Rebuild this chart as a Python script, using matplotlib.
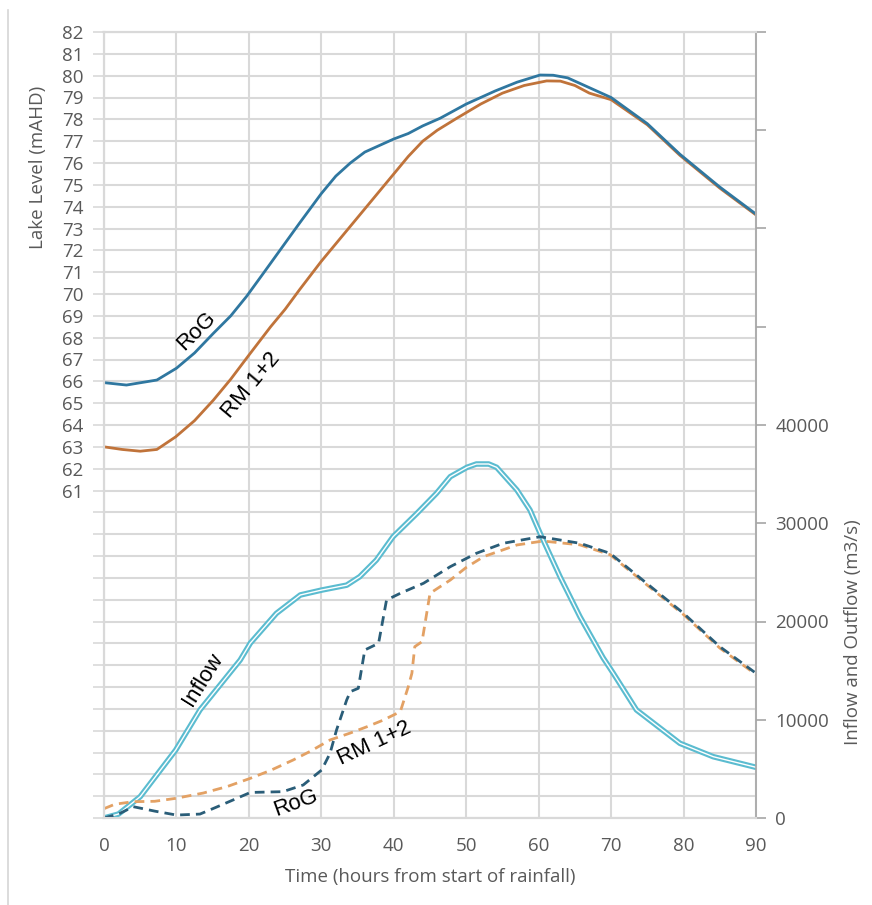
import matplotlib
matplotlib.use("Agg")
import matplotlib.pyplot as plt
from matplotlib.lines import Line2D
from matplotlib.ticker import FixedLocator, FuncFormatter

# %%
# Data
# Lake levels (mAHD), left axis
lvl_rog_t = [0, 3.1, 7.3, 10, 12.5, 15.1, 17.5, 19.7, 22, 24.5, 27, 30, 32, 34, 36, 38,
             40, 42, 44, 46.4, 50, 54, 57, 60.2, 62, 64, 66, 68, 70, 75, 79.5, 85, 90]
lvl_rog = [65.94, 65.83, 66.06, 66.6, 67.3, 68.2, 69.0, 69.9, 70.95, 72.1, 73.25, 74.6, 75.4,
           76.0, 76.5, 76.8, 77.1, 77.35, 77.7, 78.05, 78.7, 79.3, 79.7, 80.03, 80.02, 79.9,
           79.6, 79.3, 79.0, 77.8, 76.4, 74.9, 73.66]

lvl_rm_t = [0, 2.5, 5, 7.3, 9.9, 12.5, 15.1, 17.5, 20, 23, 25, 27, 30, 33, 36, 39, 42, 44,
            46, 48.7, 52, 55, 58, 61.1, 63, 65, 67, 70, 75, 79.5, 85, 90]
lvl_rm = [63.0, 62.88, 62.8, 62.88, 63.46, 64.2, 65.14, 66.1, 67.2, 68.5, 69.3, 70.2, 71.5,
          72.7, 73.9, 75.1, 76.3, 77.0, 77.5, 78.05, 78.7, 79.2, 79.55, 79.76, 79.75, 79.55,
          79.2, 78.9, 77.75, 76.35, 74.85, 73.62]

# Flows (m3/s), right axis
inflow_t = [0, 2, 5, 9.9, 13.25, 18.8, 20.2, 23.8, 27.1, 30.05, 33.5, 35.3, 37.6, 39.9,
            43.2, 45.9, 47.8, 50.1, 51.4, 53.1, 54.2, 57.0, 58.8, 60.2, 62.95, 65.7, 68.9,
            70.3, 73.5, 79.5, 84.1, 90]
inflow = [0, 400, 2170, 6920, 11000, 16080, 17800, 20830, 22700, 23200, 23700, 24560, 26260,
          28630, 31010, 33050, 34740, 35690, 36030, 36030, 35690, 33380, 31350, 28980, 24560,
          20490, 16300, 14730, 11000, 7600, 6240, 5160]

out_rog_t = [0, 2, 4.05, 7, 10, 13.25, 15.5, 17.8, 20.2, 24.7, 27.5, 30.05, 31.2, 32.1,
             33.5, 34.0, 35.1, 36.0, 37.9, 39.0, 40.9, 44.1, 47.8, 51.4, 55.1, 60.2, 65.7,
             69.85, 74.9, 80, 85, 90]
out_rog = [0, 400, 1150, 700, 300, 400, 1100, 1830, 2600, 2680, 3360, 4890, 6580, 8960,
           12010, 12860, 13200, 17100, 17780, 22190, 22870, 23890, 25580, 26940, 27960,
           28630, 27960, 26940, 23890, 20830, 17440, 14730]

out_rm_t = [0, 1.5, 4, 7, 9.9, 13.7, 17, 20.2, 23, 26.1, 28.5, 31.2, 34, 36.3, 38.5, 40.9,
            42.0, 42.5, 42.9, 43.9, 45.0, 47.8, 50, 52.4, 57.0, 60.6, 65.7, 69.85, 74.9,
            80, 85, 90]
out_rm = [950, 1400, 1660, 1700, 2000, 2540, 3200, 4040, 4850, 5900, 6800, 7940, 8650, 9290,
          9950, 10820, 13360, 14730, 17440, 17950, 22870, 24220, 25500, 26600, 27790, 28190,
          27800, 26800, 23750, 20700, 17300, 14600]

lvl_ticks = list(range(46, 83))
flow_ticks = list(range(0, 80001, 10000))
time_ticks = list(range(0, 91, 10))

# %%
# Plot
txt_grey = "#595959"
grid_grey = "#d9d9d9"
tick_font = "Open Sans"

fig = plt.figure(figsize=(8.72, 9.05), dpi=100)
ax = fig.add_axes([104 / 872, 1 - 818 / 905, 652 / 872, 786 / 905])
ax2 = ax.twinx()

ax.set_xlim(0, 90)
ax.set_ylim(46, 82)
ax2.set_ylim(0, 80000)

ax.yaxis.set_major_locator(FixedLocator(lvl_ticks))
ax.yaxis.set_major_formatter(FuncFormatter(lambda v, p: f"{v:.0f}" if v >= 61 else ""))
ax.xaxis.set_major_locator(FixedLocator(time_ticks))
ax2.yaxis.set_major_locator(FixedLocator(flow_ticks))
ax2.yaxis.set_major_formatter(FuncFormatter(lambda v, p: f"{v:.0f}" if v <= 40000 else ""))

ax.grid(True, color=grid_grey, lw=1.5)
ax.set_axisbelow(True)

for a in (ax, ax2):
    for s in a.spines.values():
        s.set_color(grid_grey)
        s.set_linewidth(1.5)
ax2.spines["right"].set_color("#a6a6a6")
ax2.spines["right"].set_linewidth(1.2)

ax.tick_params(axis="y", length=8, width=1.2, color=grid_grey, labelsize=13.5,
               labelcolor=txt_grey, pad=7)
ax.tick_params(axis="x", length=0, labelsize=13.5, labelcolor=txt_grey, pad=14)
ax2.tick_params(axis="y", length=7, width=1.2, color="#a6a6a6", labelsize=13.5,
                labelcolor=txt_grey, pad=7)
for lab in ax.get_xticklabels() + ax.get_yticklabels() + ax2.get_yticklabels():
    lab.set_family(tick_font)

# lake levels
ax.plot(lvl_rm_t, lvl_rm, color="#c0733a", lw=2.0)
ax.plot(lvl_rog_t, lvl_rog, color="#2f77a0", lw=2.0)

# flows
ax2.plot(inflow_t, inflow, color="#5bbcd0", lw=4.0, solid_capstyle="round")
ax2.plot(inflow_t, inflow, color="white", lw=1.0)
ax2.plot(out_rm_t, out_rm, color="#e3a164", lw=2.0, ls=(0, (3.5, 2.2)))
ax2.plot(out_rog_t, out_rog, color="#2a5d78", lw=2.0, ls=(0, (3.5, 2.2)))

# curve labels
lbl = dict(fontsize=16, family="Liberation Sans", color="black", ha="center", va="center")
ax.text(12.8, 68.3, "RoG", rotation=45, **lbl)
ax.text(20.3, 65.8, "RM 1+2", rotation=50, **lbl)
ax2.text(13.6, 14100, "Inflow", rotation=58, **lbl)
ax2.text(37.3, 7600, "RM 1+2", rotation=25, **lbl)
ax2.text(26.4, 1550, "RoG", rotation=20, **lbl)

# axis titles
fig.text(38 / 872, 1 - 167 / 905, "Lake Level (mAHD)", rotation=90, ha="center",
         va="center", fontsize=13.5, color=txt_grey, family=tick_font)
fig.text(853 / 872, 1 - 632 / 905, "Inflow and Outflow (m3/s)", rotation=90, ha="center",
         va="center", fontsize=13.5, color=txt_grey, family=tick_font)
fig.text(430 / 872, 1 - 877 / 905, "Time (hours from start of rainfall)", ha="center",
         va="center", fontsize=13.5, color=txt_grey, family=tick_font)

# thin frame line on the left edge of the original picture
fig.add_artist(Line2D([8 / 872, 8 / 872], [0, 1 - 10 / 905], color="#d6d6d6", lw=1.2))

fig.savefig("out.png", dpi=100)
